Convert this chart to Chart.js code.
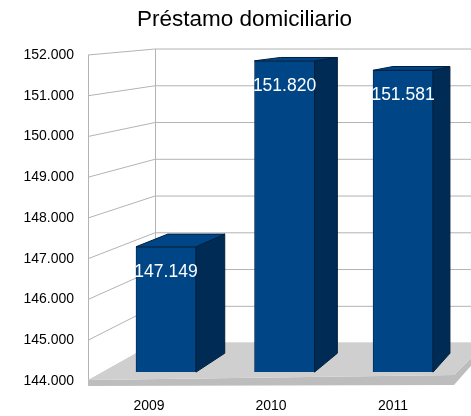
<!DOCTYPE html>
<html><head><meta charset="utf-8">
<script src="https://cdn.jsdelivr.net/npm/chart.js@4/dist/chart.umd.min.js"></script>
<style>html,body{margin:0;padding:0;background:#fff;} #wrap{width:471px;height:416px;}</style>
</head><body><div id="wrap"><canvas id="c" width="471" height="416"></canvas></div>
<script>
const chartTitle = 'Préstamo domiciliario';
const categories = ['2009', '2010', '2011'];
const values = [147149, 151820, 151581];
const yMin = 144000, yMax = 152000, yStep = 1000;

// perspective parameters (vanishing point and depth scales)
const VP = {x: 771, y: -6};
const S_BACK = 0.902;
const BAR_DEPTH = 0.05;

const fmt = v => String(Math.round(v)).replace(/\B(?=(\d{3})+(?!\d))/g, '.');

const threeD = {
  id: 'threeD',
  beforeDatasetsDraw(chart) {
    const ctx = chart.ctx, ca = chart.chartArea, ys = chart.scales.y;
    const proj = (x, y, s) => ({x: VP.x + s * (x - VP.x), y: VP.y + s * (y - VP.y)});
    ctx.save();
    ctx.strokeStyle = '#b3b3b3';
    ctx.lineWidth = 1;
    for (let v = yMin; v <= yMax; v += yStep) {
      const fy = ys.getPixelForValue(v);
      const b = proj(ca.left, fy, S_BACK);
      ctx.beginPath();
      ctx.moveTo(ca.left, fy);
      ctx.lineTo(b.x, b.y);
      ctx.lineTo(chart.width, b.y);
      ctx.stroke();
    }
    const fTop = ys.getPixelForValue(yMax), fBot = ys.getPixelForValue(yMin);
    const bTop = proj(ca.left, fTop, S_BACK), bBot = proj(ca.left, fBot, S_BACK);
    ctx.beginPath();
    ctx.moveTo(ca.left + 0.5, fTop); ctx.lineTo(ca.left + 0.5, fBot);
    ctx.moveTo(Math.round(bTop.x) + 0.5, bTop.y); ctx.lineTo(Math.round(bTop.x) + 0.5, bBot.y);
    ctx.stroke();
    // floor
    const tilt = 6, thick = 6;
    const fl = {x: ca.left, y: fBot - 1};
    const fr = {x: ca.right, y: fBot - tilt};
    const bl = proj(ca.left, fBot, S_BACK);
    const br = {x: fr.x + (fr.y - bl.y), y: bl.y};
    ctx.fillStyle = '#bdbdbd';
    ctx.beginPath();
    ctx.moveTo(fl.x, fl.y); ctx.lineTo(fr.x, fr.y); ctx.lineTo(br.x, br.y);
    ctx.lineTo(br.x, br.y + thick); ctx.lineTo(fr.x, fr.y + thick + 4); ctx.lineTo(fl.x, fl.y + thick);
    ctx.closePath(); ctx.fill();
    ctx.fillStyle = '#cfcfcf';
    ctx.beginPath();
    ctx.moveTo(fl.x, fl.y); ctx.lineTo(fr.x, fr.y); ctx.lineTo(br.x, br.y); ctx.lineTo(bl.x, bl.y);
    ctx.closePath(); ctx.fill();
    ctx.restore();
  },
  afterDatasetsDraw(chart) {
    const ctx = chart.ctx;
    const meta = chart.getDatasetMeta(0);
    const back = (x, y) => ({x: x + BAR_DEPTH * (VP.x - x), y: y + BAR_DEPTH * (VP.y - y)});
    ctx.save();
    meta.data.forEach((el, i) => {
      const p = el.getProps(['x', 'y', 'base', 'width'], true);
      const l = p.x - p.width / 2, r = p.x + p.width / 2, t = p.y, b = p.base;
      const rt = back(r, t), rb = back(r, b), lt = back(l, t);
      ctx.fillStyle = '#002b54';
      ctx.strokeStyle = '#001f3d';
      ctx.lineWidth = 1;
      ctx.beginPath();
      ctx.moveTo(r, t); ctx.lineTo(rt.x, rt.y); ctx.lineTo(rb.x, rb.y); ctx.lineTo(r, b);
      ctx.closePath(); ctx.fill(); ctx.stroke();
      ctx.fillStyle = '#004586';
      ctx.beginPath();
      ctx.moveTo(l, t); ctx.lineTo(lt.x, lt.y); ctx.lineTo(rt.x, rt.y); ctx.lineTo(r, t);
      ctx.closePath(); ctx.fill(); ctx.stroke();
      ctx.fillStyle = '#ffffff';
      ctx.font = "17.5px 'Liberation Sans', Arial, sans-serif";
      ctx.textAlign = 'center';
      ctx.textBaseline = 'middle';
      ctx.fillText(fmt(values[i]), p.x, t + 25);
    });
    ctx.restore();
  },
  afterDraw(chart) {
    const ctx = chart.ctx;
    ctx.save();
    ctx.fillStyle = '#000';
    ctx.font = "22.5px 'Liberation Sans', Arial, sans-serif";
    ctx.textAlign = 'center';
    ctx.textBaseline = 'alphabetic';
    ctx.fillText(chartTitle, 244.5, 26);
    ctx.restore();
  }
};

Chart.defaults.font.family = "'Liberation Sans', Arial, sans-serif";
Chart.defaults.color = '#000';

new Chart(document.getElementById('c'), {
  type: 'bar',
  data: {
    labels: categories,
    datasets: [{
      data: values.map((v, i) => ({x: i, y: v})),
      xAxisID: 'xb', yAxisID: 'yb',
      base: yMin,
      backgroundColor: '#004586',
      borderColor: '#00315f',
      borderWidth: 1,
      barThickness: 60
    }]
  },
  options: {
    responsive: false, animation: false, devicePixelRatio: 1,
    layout: {padding: {left: 0, right: 17, top: 55, bottom: 0}},
    plugins: {
      legend: {display: false},
      tooltip: {enabled: false},
      title: {display: false}
    },
    scales: {
      x: {type: 'category', axis: 'x', position: 'bottom', offset: true,
        grid: {display: false, drawTicks: false}, border: {display: false},
        ticks: {font: {size: 14}, padding: 17, maxRotation: 0},
        afterFit(s) { s.height = 35; }},
      y: {type: 'linear', axis: 'y', position: 'left', min: yMin, max: yMax,
        grid: {display: false, drawTicks: false}, border: {display: false},
        ticks: {stepSize: yStep, font: {size: 14}, padding: 14, callback: v => fmt(v)},
        afterFit(s) { s.width = 88; }},
      xb: {type: 'linear', axis: 'x', display: false, offset: false, grid: {offset: false},
        min: -0.658, max: 2.43},
      yb: {type: 'linear', axis: 'y', display: false, min: 143777, max: 151966}
    }
  },
  plugins: [threeD]
});
</script>
</body></html>
